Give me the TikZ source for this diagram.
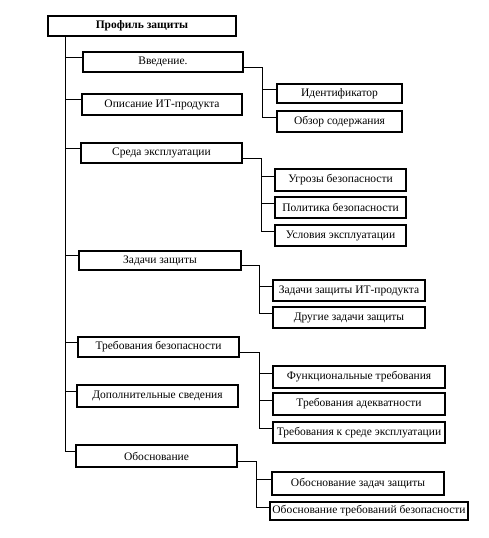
\documentclass[tikz,border=0pt]{standalone}
\usepackage{fontspec}
\setmainfont{Liberation Serif}
\newcommand\mkbox[6]{\node[box,minimum width={(#4)-(#2)},minimum height={(#5)-(#3)}] (#1) at ({((#2)+(#4))/2},{((#3)+(#5))/2}) {#6};}
\begin{document}
\begin{tikzpicture}[x=1pt,y=-1pt,
  box/.style={draw,line width=1.1pt,inner sep=0pt,font=\fontsize{11.5}{13}\selectfont},
  conn/.style={line width=0.9pt}]
\useasboundingbox (0,0) rectangle (488,538);
\mkbox{root}{48}{16}{236}{36}{\bfseries Профиль защиты}
\mkbox{vved}{83}{52}{243}{72}{Введение.}
\mkbox{opis}{82}{94}{242}{115}{Описание ИТ-продукта}
\mkbox{sreda}{81}{143}{242}{163}{Среда эксплуатации}
\mkbox{zad}{79}{251}{241}{270}{Задачи защиты}
\mkbox{treb}{78}{337}{239}{357}{Требования безопасности}
\mkbox{dop}{77}{385}{238}{407}{Дополнительные сведения}
\mkbox{obos}{76}{445}{237}{467}{Обоснование}
\mkbox{ident}{277}{84}{402}{103}{Идентификатор}
\mkbox{obzor}{277}{111}{402}{132}{Обзор содержания}
\mkbox{ugr}{275}{169}{406}{191}{Угрозы безопасности}
\mkbox{polit}{275}{197}{406}{218}{Политика безопасности}
\mkbox{uslov}{275}{225}{406}{246}{Условия эксплуатации}
\mkbox{zit}{273}{280}{425}{301}{Задачи защиты ИТ-продукта}
\mkbox{drug}{273}{307}{425}{328}{Другие задачи защиты}
\mkbox{funk}{273}{366}{445}{388}{Функциональные требования}
\mkbox{adek}{273}{393}{445}{415}{Требования адекватности}
\mkbox{sred}{273}{422}{445}{443}{Требования к среде эксплуатации}
\mkbox{obz}{272}{472}{444}{495}{Обоснование задач защиты}
\mkbox{obt}{270}{502}{468}{520}{Обоснование требований безопасности}
% trunk
\coordinate (trunk) at ([xshift=18]root.south west);
\foreach \n in {vved,opis,sreda,zad,treb,dop,obos}{
  \coordinate (\n-in) at ([yshift=5]\n.west);
  \coordinate (\n-out) at ([yshift=-5]\n.east);
}
\foreach \n in {ident,obzor,ugr,polit,uslov,zit,drug,funk,adek,sred,obz,obt}{
  \coordinate (\n-in) at ([yshift=4]\n.west);
}
\draw[conn] (trunk) |- (obos-in);
\foreach \n in {vved,opis,sreda,zad,treb,dop}{
  \draw[conn] (trunk |- \n-in) -- (\n-in);
}
% level 2
\coordinate (b1) at ([xshift=-14]ident.west);
\draw[conn] (vved-out) -| (b1 |- obzor-in) -- (obzor-in);
\draw[conn] (b1 |- ident-in) -- (ident-in);
\coordinate (b2) at ([xshift=-13]ugr.west);
\draw[conn] (sreda-out) -| (b2 |- uslov-in) -- (uslov-in);
\foreach \n in {ugr,polit}{\draw[conn] (b2 |- \n-in) -- (\n-in);}
\coordinate (b3) at ([xshift=-13]zit.west);
\draw[conn] (zad-out) -| (b3 |- drug-in) -- (drug-in);
\draw[conn] (b3 |- zit-in) -- (zit-in);
\coordinate (b4) at ([xshift=-13]funk.west);
\draw[conn] (treb-out) -| (b4 |- sred-in) -- (sred-in);
\foreach \n in {funk,adek}{\draw[conn] (b4 |- \n-in) -- (\n-in);}
\coordinate (b5) at ([xshift=-15]obz.west);
\draw[conn] (obos-out) -| (b5 |- obt-in) -- (obt-in);
\draw[conn] (b5 |- obz-in) -- (obz-in);
\end{tikzpicture}
\end{document}
